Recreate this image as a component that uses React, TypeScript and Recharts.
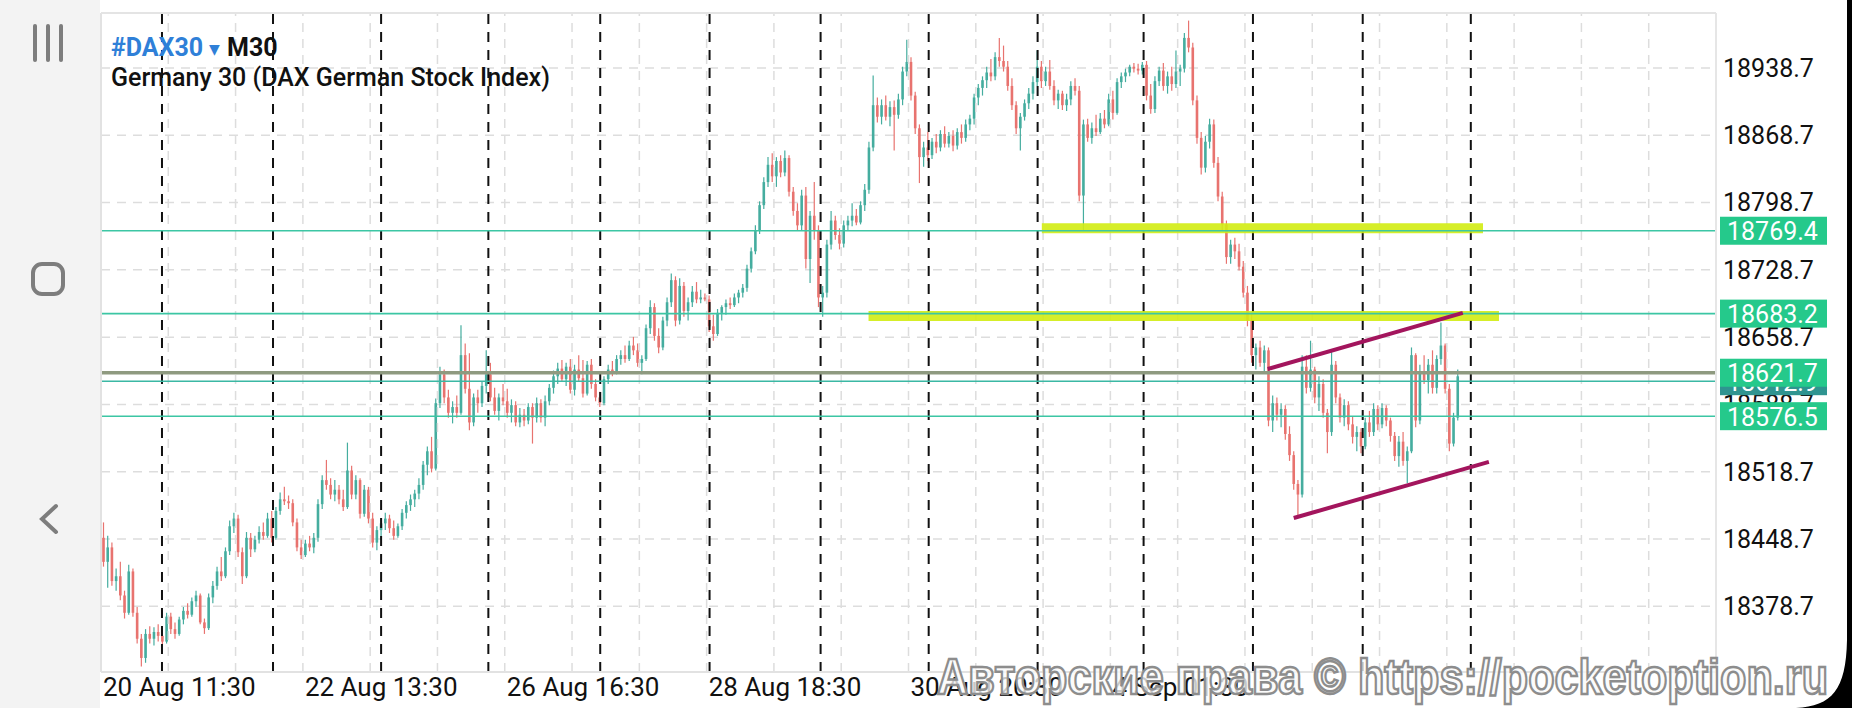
import { ComposedChart, Bar, XAxis, YAxis, CartesianGrid, ReferenceLine } from 'recharts'

// one row per M30 bar: [open, high, low, close]
type Ohlc = [number, number, number, number]

const day00: Ohlc[] = [
  [18450, 18466, 18420, 18425], [18425, 18452, 18398, 18440], [18440, 18445, 18400, 18405],
  [18405, 18418, 18395, 18410], [18410, 18425, 18385, 18390], [18390, 18395, 18366, 18372],
  [18372, 18422, 18370, 18415], [18415, 18418, 18368, 18372], [18372, 18378, 18340, 18345],
  [18345, 18350, 18316, 18325], [18325, 18355, 18320, 18350], [18350, 18358, 18340, 18345],
  [18345, 18357, 18338, 18352], [18352, 18360, 18342, 18348],
]
const day01: Ohlc[] = [
  [18348, 18356, 18338, 18342], [18342, 18372, 18340, 18368], [18368, 18372, 18350, 18355],
  [18355, 18362, 18345, 18350], [18350, 18368, 18348, 18365], [18365, 18378, 18360, 18374],
  [18374, 18382, 18366, 18370], [18370, 18388, 18368, 18384], [18384, 18395, 18378, 18390],
  [18390, 18392, 18360, 18362], [18362, 18366, 18350, 18356], [18356, 18392, 18354, 18388],
  [18388, 18405, 18382, 18400], [18400, 18420, 18396, 18415], [18415, 18430, 18405, 18410],
  [18410, 18440, 18408, 18436], [18436, 18468, 18432, 18462], [18462, 18476, 18455, 18470],
  [18470, 18474, 18430, 18435], [18435, 18440, 18402, 18410], [18410, 18456, 18408, 18450],
  [18450, 18455, 18430, 18438], [18438, 18452, 18435, 18448], [18448, 18462, 18444, 18456],
  [18456, 18466, 18448, 18452], [18452, 18476, 18450, 18470],
]
const day02: Ohlc[] = [
  [18470, 18478, 18445, 18450], [18450, 18482, 18448, 18478], [18478, 18497, 18474, 18490],
  [18490, 18503, 18484, 18488], [18488, 18494, 18480, 18486], [18486, 18490, 18462, 18466],
  [18466, 18470, 18436, 18440], [18440, 18448, 18428, 18432], [18432, 18448, 18430, 18444],
  [18444, 18452, 18436, 18440], [18440, 18455, 18434, 18450], [18450, 18490, 18446, 18485],
  [18485, 18515, 18480, 18510], [18510, 18531, 18500, 18505], [18505, 18512, 18490, 18495],
  [18495, 18510, 18488, 18500], [18500, 18505, 18485, 18490], [18490, 18500, 18478, 18482],
  [18482, 18549, 18480, 18520], [18520, 18525, 18490, 18495], [18495, 18515, 18490, 18510],
  [18510, 18512, 18470, 18475], [18475, 18505, 18472, 18500], [18500, 18503, 18465, 18470],
  [18470, 18476, 18440, 18445], [18445, 18462, 18437, 18458],
]
const day03: Ohlc[] = [
  [18458, 18470, 18448, 18465], [18465, 18476, 18458, 18470], [18470, 18474, 18455, 18460],
  [18460, 18468, 18448, 18452], [18452, 18465, 18450, 18462], [18462, 18480, 18458, 18476],
  [18476, 18488, 18470, 18484], [18484, 18495, 18478, 18490], [18490, 18500, 18482, 18496],
  [18496, 18512, 18490, 18505], [18505, 18530, 18500, 18526], [18526, 18545, 18515, 18540],
  [18540, 18555, 18518, 18522], [18522, 18595, 18520, 18590], [18590, 18628, 18585, 18620],
  [18620, 18625, 18590, 18596], [18596, 18604, 18575, 18580], [18580, 18592, 18569, 18586],
  [18586, 18598, 18575, 18580], [18580, 18671, 18578, 18640], [18640, 18652, 18600, 18605],
  [18605, 18642, 18562, 18570], [18570, 18600, 18566, 18596], [18596, 18604, 18580, 18590],
  [18590, 18612, 18586, 18608], [18608, 18645, 18600, 18620],
]
const day04: Ohlc[] = [
  [18620, 18632, 18592, 18596], [18596, 18606, 18578, 18582], [18582, 18600, 18572, 18596],
  [18596, 18610, 18588, 18592], [18592, 18605, 18575, 18580], [18580, 18594, 18570, 18588],
  [18588, 18592, 18566, 18570], [18570, 18585, 18565, 18578], [18578, 18584, 18566, 18572],
  [18572, 18590, 18568, 18586], [18586, 18590, 18548, 18575], [18575, 18596, 18570, 18590],
  [18590, 18594, 18570, 18575], [18575, 18598, 18566, 18592], [18592, 18610, 18588, 18606],
  [18606, 18624, 18600, 18618], [18618, 18632, 18610, 18626], [18626, 18635, 18612, 18615],
  [18615, 18632, 18608, 18628], [18628, 18636, 18600, 18604], [18604, 18630, 18598, 18625],
  [18625, 18640, 18612, 18616], [18616, 18635, 18596, 18600], [18600, 18634, 18598, 18630],
  [18630, 18636, 18605, 18610], [18610, 18615, 18592, 18596],
]
const day05: Ohlc[] = [
  [18596, 18602, 18586, 18590], [18590, 18618, 18588, 18615], [18615, 18630, 18610, 18625],
  [18625, 18634, 18618, 18622], [18622, 18640, 18620, 18636], [18636, 18645, 18630, 18640],
  [18640, 18650, 18632, 18636], [18636, 18655, 18634, 18650], [18650, 18659, 18640, 18645],
  [18645, 18652, 18628, 18632], [18632, 18640, 18620, 18636], [18636, 18672, 18634, 18668],
  [18668, 18697, 18662, 18690], [18690, 18694, 18655, 18660], [18660, 18668, 18642, 18648],
  [18648, 18680, 18645, 18676], [18676, 18700, 18670, 18695], [18695, 18725, 18690, 18718],
  [18718, 18722, 18670, 18676], [18676, 18720, 18672, 18712], [18712, 18716, 18680, 18686],
  [18686, 18700, 18676, 18695], [18695, 18712, 18690, 18706], [18706, 18716, 18694, 18698],
  [18698, 18708, 18694, 18700], [18700, 18704, 18696, 18698],
]
const day06: Ohlc[] = [
  [18698, 18702, 18664, 18670], [18670, 18682, 18655, 18662], [18662, 18688, 18660, 18684],
  [18684, 18692, 18676, 18690], [18690, 18698, 18682, 18694], [18694, 18700, 18688, 18692],
  [18692, 18704, 18690, 18700], [18700, 18708, 18694, 18705], [18705, 18714, 18700, 18710],
  [18710, 18734, 18706, 18730], [18730, 18752, 18726, 18748], [18748, 18775, 18745, 18770],
  [18770, 18800, 18766, 18796], [18796, 18825, 18792, 18820], [18820, 18846, 18815, 18838],
  [18838, 18850, 18820, 18826], [18826, 18846, 18815, 18842], [18842, 18848, 18825, 18830],
  [18830, 18853, 18826, 18845], [18845, 18848, 18805, 18810], [18810, 18815, 18785, 18790],
  [18790, 18798, 18770, 18775], [18775, 18812, 18770, 18806], [18806, 18815, 18730, 18740],
  [18740, 18790, 18715, 18785], [18785, 18820, 18760, 18770], [18770, 18775, 18690, 18700],
]
const day07: Ohlc[] = [
  [18700, 18712, 18680, 18705], [18705, 18760, 18700, 18755], [18755, 18790, 18750, 18780],
  [18780, 18785, 18760, 18765], [18765, 18772, 18750, 18756], [18756, 18780, 18752, 18775],
  [18775, 18785, 18770, 18780], [18780, 18798, 18774, 18785], [18785, 18792, 18775, 18778],
  [18778, 18800, 18776, 18796], [18796, 18818, 18790, 18812], [18812, 18862, 18808, 18856],
  [18856, 18931, 18852, 18900], [18900, 18908, 18882, 18888], [18888, 18906, 18880, 18900],
  [18900, 18910, 18884, 18888], [18888, 18904, 18878, 18898], [18898, 18905, 18853, 18890],
  [18890, 18912, 18886, 18906], [18906, 18940, 18900, 18935], [18935, 18968, 18930, 18945],
  [18945, 18950, 18905, 18910], [18910, 18914, 18870, 18876], [18876, 18880, 18819, 18846],
  [18846, 18862, 18836, 18856],
]
const day08: Ohlc[] = [
  [18856, 18872, 18842, 18848], [18848, 18866, 18844, 18862], [18862, 18870, 18850, 18856],
  [18856, 18874, 18852, 18870], [18870, 18878, 18856, 18860], [18860, 18872, 18856, 18868],
  [18868, 18874, 18852, 18858], [18858, 18876, 18854, 18872], [18872, 18880, 18860, 18866],
  [18866, 18885, 18862, 18880], [18880, 18890, 18874, 18886], [18886, 18912, 18880, 18908],
  [18908, 18922, 18900, 18918], [18918, 18930, 18910, 18926], [18926, 18940, 18918, 18934],
  [18934, 18948, 18925, 18930], [18930, 18955, 18926, 18950], [18950, 18970, 18940, 18946],
  [18946, 18962, 18935, 18940], [18940, 18946, 18915, 18920], [18920, 18928, 18895, 18900],
  [18900, 18904, 18870, 18876], [18876, 18892, 18853, 18888], [18888, 18906, 18884, 18902],
  [18902, 18918, 18896, 18912], [18912, 18930, 18906, 18924],
]
const day09: Ohlc[] = [
  [18924, 18957, 18920, 18940], [18940, 18946, 18918, 18925], [18925, 18940, 18920, 18935],
  [18935, 18947, 18916, 18920], [18920, 18926, 18900, 18905], [18905, 18916, 18896, 18912],
  [18912, 18915, 18895, 18900], [18900, 18912, 18894, 18906], [18906, 18925, 18900, 18920],
  [18920, 18928, 18910, 18915], [18915, 18920, 18800, 18806], [18806, 18885, 18770, 18880],
  [18880, 18886, 18862, 18866], [18866, 18882, 18860, 18876], [18876, 18890, 18868, 18872],
  [18872, 18892, 18870, 18886], [18886, 18895, 18876, 18880], [18880, 18912, 18878, 18906],
  [18906, 18915, 18885, 18892], [18892, 18928, 18890, 18924], [18924, 18934, 18918, 18930],
  [18930, 18938, 18924, 18934], [18934, 18942, 18930, 18940], [18940, 18944, 18934, 18938],
  [18938, 18943, 18932, 18936], [18936, 18945, 18932, 18942],
]
const day10: Ohlc[] = [
  [18942, 18946, 18905, 18910], [18910, 18922, 18891, 18896], [18896, 18930, 18892, 18925],
  [18925, 18940, 18920, 18936], [18936, 18944, 18915, 18920], [18920, 18935, 18912, 18930],
  [18930, 18940, 18915, 18922], [18922, 18957, 18918, 18935], [18935, 18942, 18920, 18938],
  [18938, 18975, 18934, 18970], [18970, 18988, 18955, 18960], [18960, 18965, 18900, 18905],
  [18905, 18910, 18860, 18866], [18866, 18872, 18828, 18835], [18835, 18868, 18830, 18862],
  [18862, 18886, 18855, 18880], [18880, 18885, 18835, 18840], [18840, 18846, 18800, 18805],
  [18805, 18810, 18770, 18776], [18776, 18780, 18735, 18742], [18742, 18760, 18735, 18755],
  [18755, 18762, 18740, 18748], [18748, 18756, 18728, 18732], [18732, 18738, 18700, 18705],
  [18705, 18712, 18670, 18676], [18676, 18684, 18632, 18640],
]
const day11: Ohlc[] = [
  [18640, 18652, 18625, 18648], [18648, 18655, 18628, 18632], [18632, 18650, 18622, 18645],
  [18645, 18648, 18566, 18572], [18572, 18598, 18560, 18590], [18590, 18596, 18572, 18578],
  [18578, 18590, 18565, 18584], [18584, 18588, 18552, 18558], [18558, 18566, 18530, 18536],
  [18536, 18540, 18500, 18506], [18506, 18510, 18471, 18495], [18495, 18640, 18492, 18628],
  [18628, 18640, 18600, 18606], [18606, 18655, 18602, 18625], [18625, 18628, 18590, 18596],
  [18596, 18618, 18582, 18610], [18610, 18615, 18575, 18580], [18580, 18584, 18538, 18560],
  [18560, 18646, 18556, 18630], [18630, 18634, 18590, 18596], [18596, 18600, 18570, 18575],
  [18575, 18594, 18566, 18588], [18588, 18592, 18562, 18568], [18568, 18576, 18548, 18555],
  [18555, 18566, 18540, 18560], [18560, 18564, 18538, 18545],
]
const day12: Ohlc[] = [
  [18545, 18575, 18542, 18570], [18570, 18582, 18555, 18560], [18560, 18590, 18556, 18584],
  [18584, 18588, 18562, 18568], [18568, 18590, 18564, 18585], [18585, 18588, 18566, 18572],
  [18572, 18575, 18550, 18556], [18556, 18560, 18530, 18535], [18535, 18556, 18524, 18550],
  [18550, 18560, 18525, 18530], [18530, 18545, 18507, 18540], [18540, 18648, 18538, 18640],
  [18640, 18642, 18565, 18572], [18572, 18630, 18568, 18622], [18622, 18640, 18610, 18614],
  [18614, 18636, 18600, 18630], [18630, 18645, 18600, 18606], [18606, 18640, 18600, 18636],
  [18636, 18674, 18630, 18650], [18650, 18652, 18600, 18605], [18605, 18610, 18540, 18548],
  [18548, 18580, 18545, 18575], [18575, 18625, 18572, 18618],
]

const sessions = [day00, day01, day02, day03, day04, day05, day06, day07, day08, day09, day10, day11, day12]

// bar-index positions of the day separators
const sessionBreaks = [14.0, 40.4, 66.1, 91.6, 118.2, 144.2, 170.6, 196.3, 222.2, 247.4, 273.4, 299.5, 325.2]

const priceTicks = [18378.7, 18448.7, 18518.7, 18588.7, 18658.7, 18728.7, 18798.7, 18868.7, 18938.7]
const timeTicks = [-0.5, 47.5, 95.5, 143.5, 191.5, 239.5]
const timeLabels = ['20 Aug 11:30', '22 Aug 13:30', '26 Aug 16:30', '28 Aug 18:30', '30 Aug 20:30', '4 Sep 01:30']

const levelPrices = [18769.4, 18683.2, 18576.5]
const askPrice = 18612.9
const bidPrice = 18621.7

// [fromBar, toBar, price]
const highlightZones: [number, number, number][] = [
  [223.2, 328.1, 18772.0],
  [182.0, 331.9, 18680.7],
]
// channel lines: [fromBar, fromPrice, toBar, toPrice]
const channelLines: [number, number, number, number][] = [
  [276.9, 18625.6, 323.3, 18683.9],
  [283.1, 18470.6, 329.5, 18528.9],
]

const SLOTS = 384
const PRICE_DOMAIN: [number, number] = [18310.4, 18995.9]
const UP = '#45ad9f'
const DOWN = '#e8736f'
const TEAL = '#3cc6a4'
const TAG = '#25c98b'
const GRID = '#dddddd'
const MARGIN = { top: 13, right: 0, bottom: 0, left: 101 }

const candles = sessions.flat().map(([o, h, l, c], i) => ({ i, o, h, l, c }))
const gridCols = Array.from({ length: 23 }, (_, k) => (k + 1) * 16 - 0.5)

function Candle(props: any) {
  const { x, y, width, height, payload } = props
  if (!payload) return null
  const { o, h, l, c } = payload
  const top = height >= 0 ? y : y + height
  const span = Math.abs(height)
  const cx = x + width / 2
  const k = h === l ? 0 : span / (h - l)
  const yo = top + (h - o) * k
  const yc = top + (h - c) * k
  const color = c >= o ? UP : DOWN
  return (
    <g>
      <line x1={cx} x2={cx} y1={top} y2={top + span} stroke={color} strokeWidth={1.2} />
      <rect x={cx - 1.3} y={Math.min(yo, yc)} width={2.6} height={Math.max(Math.abs(yc - yo), 1.2)} fill={color} />
    </g>
  )
}

function priceTag(value: number, fill: string) {
  return (props: any) => {
    const vb = props.viewBox || {}
    const x = (vb.x ?? 101) + (vb.width ?? 1615) + 4
    const y = vb.y ?? 0
    return (
      <g>
        <rect x={x} y={y - 14} width={107} height={28} fill={fill} />
        <text x={x + 7} y={y + 9.5} fill="#ffffff" fontSize={25} fontFamily="Roboto">
          {value.toFixed(1)}
        </text>
      </g>
    )
  }
}

function TimeTick(props: any) {
  const { x, y, payload } = props
  const label = timeLabels[timeTicks.indexOf(payload.value)]
  return (
    <text x={x + 2} y={y + 24} fontSize={26} fill="#111" fontFamily="Roboto">
      {label}
    </text>
  )
}

// second, transparent chart on the same scales so the price tags sit above the axis labels
function PriceTags() {
  return (
    <ComposedChart width={1852} height={708} data={candles} margin={MARGIN}>
      <XAxis dataKey="i" type="number" domain={[-0.5, SLOTS - 0.5]} allowDataOverflow height={36} tick={false} tickLine={false} axisLine={false} />
      <YAxis orientation="right" type="number" domain={PRICE_DOMAIN} allowDataOverflow width={136} tick={false} tickLine={false} axisLine={false} />
      <ReferenceLine y={askPrice} stroke="none" label={priceTag(askPrice, '#2f9490')} />
      <ReferenceLine y={bidPrice} stroke="none" label={priceTag(bidPrice, TAG)} />
      {levelPrices.map((p) => (
        <ReferenceLine key={p} y={p} stroke="none" label={priceTag(p, TAG)} />
      ))}
    </ComposedChart>
  )
}

export default function App() {
  return (
    <div style={{ position: 'absolute', left: 0, top: 0, width: 1852, height: 708, background: '#fff', fontFamily: 'Roboto, sans-serif' }}>
      <ComposedChart width={1852} height={708} data={candles} margin={MARGIN}>
        <CartesianGrid vertical={false} stroke={GRID} strokeDasharray="9 7" strokeWidth={1.5} />
        <XAxis
          dataKey="i"
          type="number"
          domain={[-0.5, SLOTS - 0.5]}
          allowDataOverflow
          ticks={timeTicks}
          interval={0}
          height={36}
          tickSize={0}
          tickMargin={0}
          tickLine={false}
          axisLine={{ stroke: '#e2e2e2', strokeWidth: 2 }}
          tick={<TimeTick />}
        />
        <YAxis
          orientation="right"
          type="number"
          domain={PRICE_DOMAIN}
          allowDataOverflow
          ticks={priceTicks}
          interval={0}
          width={136}
          tickSize={0}
          tickMargin={7}
          tickLine={false}
          axisLine={{ stroke: '#e6e6e6', strokeWidth: 2 }}
          tick={{ fontSize: 25, fill: '#111', fontFamily: 'Roboto' }}
          tickFormatter={(v: number) => v.toFixed(1)}
        />
        {gridCols.map((v) => (
          <ReferenceLine key={`g${v}`} x={v} stroke={GRID} strokeDasharray="9 7" strokeWidth={1.5} />
        ))}
        {sessionBreaks.map((v) => (
          <ReferenceLine key={`s${v}`} x={v} stroke="#111" strokeDasharray="10 8" strokeWidth={2} />
        ))}
        <Bar dataKey={(d: any) => [d.l, d.h]} barSize={3} shape={<Candle />} isAnimationActive={false} />
        {highlightZones.map(([a, b, p]) => (
          <ReferenceLine
            key={`z${p}`}
            segment={[{ x: a, y: p }, { x: b, y: p }]}
            stroke="#d2ec12"
            strokeOpacity={0.9}
            strokeWidth={10}
          />
        ))}
        {levelPrices.map((p) => (
          <ReferenceLine key={`l${p}`} y={p} stroke={TEAL} strokeWidth={1.6} />
        ))}
        <ReferenceLine y={askPrice} stroke="#3bb8a4" strokeWidth={1.6} />
        <ReferenceLine y={bidPrice} stroke="#8f9a80" strokeWidth={3.5} />
        {channelLines.map(([x1, y1, x2, y2]) => (
          <ReferenceLine
            key={`c${y1}`}
            segment={[{ x: x1, y: y1 }, { x: x2, y: y2 }]}
            stroke="#a3155d"
            strokeWidth={4}
          />
        ))}
      </ComposedChart>

      <div style={{ position: 'absolute', left: 0, top: 0 }}>
        <PriceTags />
      </div>

      <svg width={1852} height={708} style={{ position: 'absolute', left: 0, top: 0, pointerEvents: 'none' }}>
        <rect x={0} y={0} width={100} height={708} fill="#f3f3f3" />
        <line x1={101} x2={101} y1={13} y2={672} stroke="#e2e2e2" strokeWidth={2} />
        <line x1={101} x2={1716} y1={13} y2={13} stroke="#e4e4e4" strokeWidth={2} />
        <g stroke="#7d7d7d" strokeWidth={4} strokeLinecap="round" fill="none">
          <line x1={35} x2={35} y1={26} y2={60} />
          <line x1={48} x2={48} y1={26} y2={60} />
          <line x1={61} x2={61} y1={26} y2={60} />
          <rect x={33} y={264} width={30} height={30} rx={9} />
          <polyline points="56,506 42,519 56,532" />
        </g>
        <text x={111} y={56} fontSize={25} fontWeight={700} fill="#2f80d8" fontFamily="Roboto">#DAX30</text>
        <text x={209} y={54} fontSize={14} fill="#2f80d8" fontFamily="DejaVu Sans">▼</text>
        <text x={227} y={56} fontSize={25} fontWeight={700} fill="#111" fontFamily="Roboto">M30</text>
        <text x={111} y={86} fontSize={25} fontWeight={500} fill="#111" fontFamily="Roboto">
          Germany 30 (DAX German Stock Index)
        </text>
        <text
          x={937}
          y={694}
          fontSize={50}
          fontWeight={700}
          fontFamily="Liberation Sans"
          textLength={891}
          lengthAdjust="spacingAndGlyphs"
          fill="rgba(250,250,250,0.8)"
          stroke="#8d8d8d"
          strokeWidth={2.5}
        >
          Авторские права © https://pocketoption.ru
        </text>
        <rect x={1847} y={0} width={5} height={708} fill="#000" />
        <path d="M1852 600 L1852 708 L1796 708 C1832 706 1846 690 1847 640 Z" fill="#000" />
      </svg>
    </div>
  )
}
